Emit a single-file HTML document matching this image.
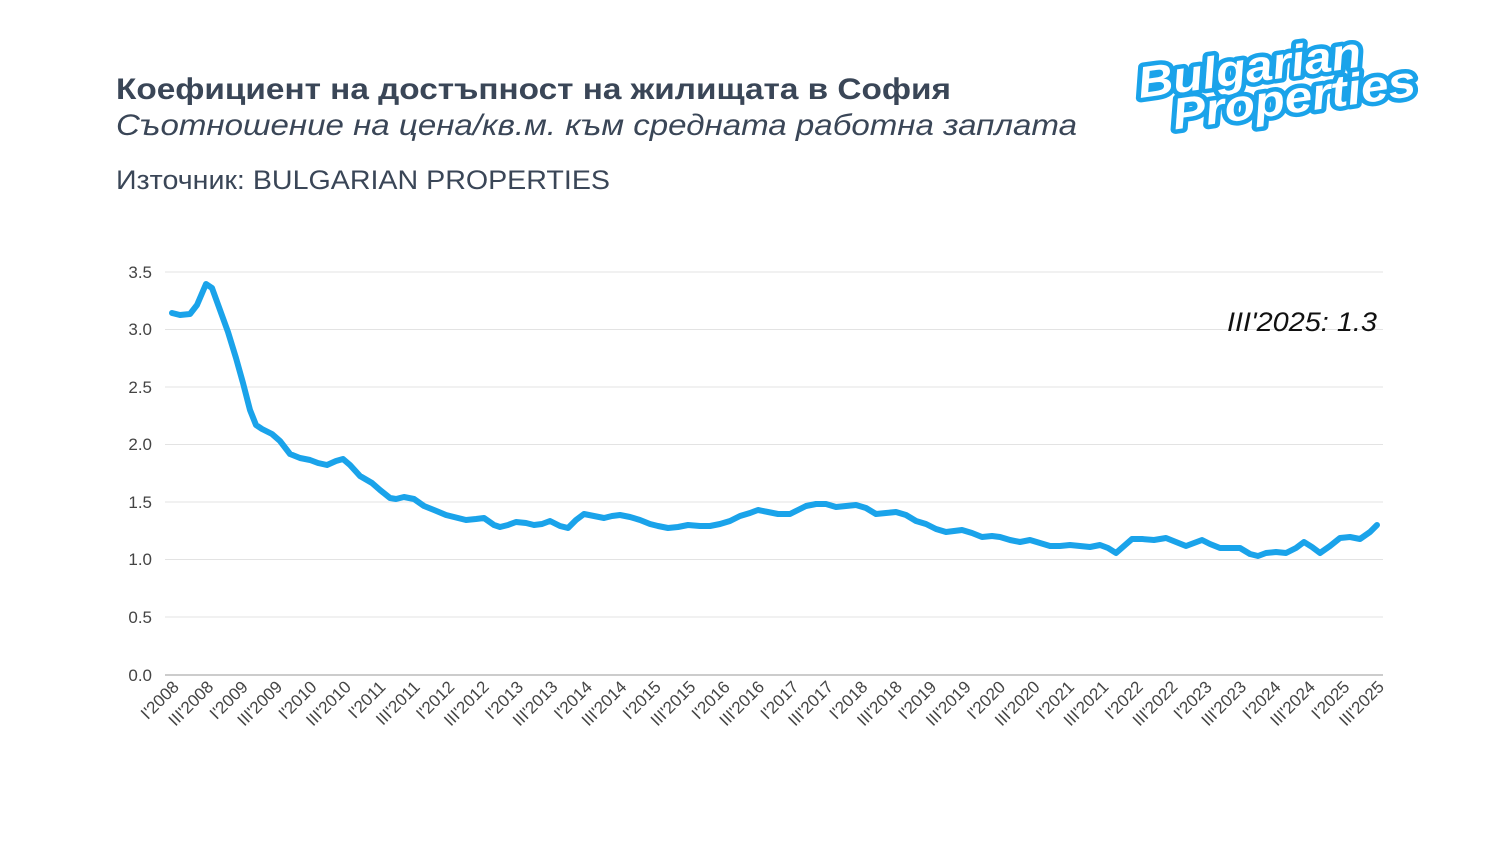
<!DOCTYPE html>
<html><head><meta charset="utf-8"><style>
body{margin:0;background:#fff;}
svg{display:block;font-family:"Liberation Sans",sans-serif;}
</style></head><body>
<svg width="1500" height="844" viewBox="0 0 1500 844" xmlns="http://www.w3.org/2000/svg">
<text x="116" y="99" font-size="30" font-weight="bold" fill="#3a4657" textLength="835" lengthAdjust="spacingAndGlyphs">Коефициент на достъпност на жилищата в София</text>
<text x="116" y="135" font-size="30" font-style="italic" fill="#3a4657" textLength="961" lengthAdjust="spacingAndGlyphs">Съотношение на цена/кв.м. към средната работна заплата</text>
<text x="116" y="189" font-size="27" fill="#3a4657" textLength="494" lengthAdjust="spacingAndGlyphs">Източник: BULGARIAN PROPERTIES</text>
<g transform="translate(1140,98) rotate(-8)" font-weight="bold" font-style="italic" font-size="44" fill="#fff" stroke="#1aa3ea" stroke-width="9" stroke-linejoin="round" paint-order="stroke">
<text x="0" y="0" textLength="225" lengthAdjust="spacingAndGlyphs">Bulgarian</text>
<text x="30" y="36" textLength="245" lengthAdjust="spacingAndGlyphs">Properties</text>
</g>
<g stroke="#e3e3e3" stroke-width="1">
<line x1="165" x2="1383" y1="272" y2="272"/><line x1="165" x2="1383" y1="329.5" y2="329.5"/>
<line x1="165" x2="1383" y1="387" y2="387"/><line x1="165" x2="1383" y1="444.5" y2="444.5"/>
<line x1="165" x2="1383" y1="502" y2="502"/><line x1="165" x2="1383" y1="559.5" y2="559.5"/>
<line x1="165" x2="1383" y1="617" y2="617"/></g>
<line x1="165" x2="1383" y1="675" y2="675" stroke="#bbb" stroke-width="1.5"/>
<g font-size="17" fill="#444" text-anchor="end">
<text x="152" y="278">3.5</text><text x="152" y="335">3.0</text><text x="152" y="393">2.5</text>
<text x="152" y="450">2.0</text><text x="152" y="508">1.5</text><text x="152" y="565">1.0</text>
<text x="152" y="623">0.5</text><text x="152" y="681">0.0</text></g>
<g font-size="17" fill="#444" text-anchor="end" id="xl"></g>
<polyline fill="none" stroke="#1aa3ea" stroke-width="6" stroke-linejoin="round" stroke-linecap="round" points="172,313 180,315 190,314 197,305 206,284 212,288 220,310 228,332 236,358 243,383 250,410 256,425 262,429 272,434 280,441 290,454 300,458 310,460 318,463 327,465 336,461 343,459 350,465 360,476 372,483 380,490 390,498 396,499 404,497 414,499 424,506 434,510 446,515 458,518 466,520 476,519 484,518 494,525 500,527 508,525 516,522 526,523 534,525 542,524 550,521 560,526 568,528 576,520 584,514 594,516 604,518 612,516 620,515 630,517 640,520 650,524 658,526 668,528 678,527 688,525 700,526 710,526 720,524 730,521 740,516 750,513 758,510 768,512 778,514 790,514 798,510 806,506 816,504 826,504 836,507 846,506 856,505 866,508 876,514 886,513 896,512 906,515 916,521 926,524 936,529 946,532 954,531 962,530 972,533 982,537 992,536 1000,537 1010,540 1020,542 1030,540 1040,543 1050,546 1060,546 1070,545 1080,546 1090,547 1100,545 1108,548 1116,553 1124,546 1132,539 1142,539 1154,540 1166,538 1176,542 1186,546 1194,543 1202,540 1210,544 1220,548 1230,548 1240,548 1250,554 1258,556 1266,553 1276,552 1286,553 1296,548 1304,542 1312,547 1320,553 1330,546 1340,538 1350,537 1360,539 1370,532 1377,525"/>
<text x="1377" y="331" font-size="27" font-style="italic" fill="#111" text-anchor="end" textLength="150" lengthAdjust="spacingAndGlyphs">III'2025: 1.3</text>
</svg>
<script>
var g=document.getElementById('xl'),s='';
for(var i=0;i<36;i++){var y=2008+Math.floor(i/2),q=i%2?"III":"I";var x=172+i*34.43+8;
s+='<text transform="translate('+x.toFixed(1)+',688) rotate(-45)">'+q+"'"+y+'</text>';}
g.innerHTML=s;
</script>
</body></html>
